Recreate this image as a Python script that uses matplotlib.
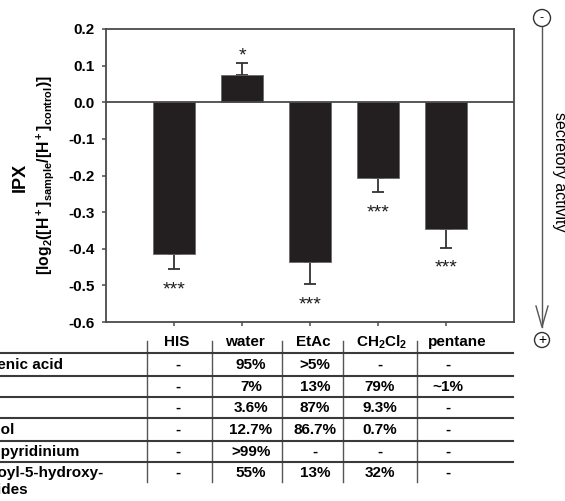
import matplotlib
matplotlib.use("Agg")
import matplotlib.pyplot as plt
from matplotlib.patches import Circle
from matplotlib.lines import Line2D

plt.rcParams['font.family'] = ['Liberation Sans', 'DejaVu Sans']
plt.rcParams['mathtext.fontset'] = 'custom'
plt.rcParams['mathtext.bf'] = 'Liberation Sans:bold'
plt.rcParams['mathtext.rm'] = 'Liberation Sans:bold'
plt.rcParams['mathtext.default'] = 'bf'

# --- data -------------------------------------------------------------
categories = ["HIS", "water", "EtAc", "CH2Cl2", "pentane"]
header_labels = ["HIS", "water", "EtAc", r"CH$_2$Cl$_2$", "pentane"]
ipx_values = [-0.415, 0.074, -0.437, -0.208, -0.347]
ipx_errors = [0.041, 0.033, 0.060, 0.038, 0.050]
significance = ["***", "*", "***", "***", "***"]
y_ticks = [-0.6, -0.5, -0.4, -0.3, -0.2, -0.1, 0.0, 0.1, 0.2]

compounds = ["chlorogenic acid", "caffeine", "catechol", "pyrogallol",
             "N-methylpyridinium", "N-alkanoyl-5-hydroxy-\ntryptamides"]
distribution = [
    ["-", "95%", ">5%", "-", "-"],
    ["-", "7%", "13%", "79%", "~1%"],
    ["-", "3.6%", "87%", "9.3%", "-"],
    ["-", "12.7%", "86.7%", "0.7%", "-"],
    ["-", ">99%", "-", "-", "-"],
    ["-", "55%", "13%", "32%", "-"],
]

# --- figure -----------------------------------------------------------
W, H = 565, 501
fig = plt.figure(figsize=(W / 100, H / 100), dpi=100)

ax = fig.add_axes([106 / W, (H - 322) / H, 408 / W, 293 / H])
pos = list(range(1, len(categories) + 1))
bar_color = "#231f20"
line_color = "#4a4a4a"

lower = [e if v < 0 else 0 for v, e in zip(ipx_values, ipx_errors)]
upper = [e if v >= 0 else 0 for v, e in zip(ipx_values, ipx_errors)]
ax.errorbar(pos, ipx_values, yerr=[lower, upper], fmt="none",
            ecolor="#333333", elinewidth=1.3, capsize=4.5, capthick=1.3,
            zorder=1)
ax.bar(pos, ipx_values, width=0.62, color=bar_color,
       edgecolor="#6a6a6a", linewidth=0.6, zorder=2)
ax.axhline(0, color=line_color, lw=1.3, zorder=3)

for p, v, e, s in zip(pos, ipx_values, ipx_errors, significance):
    if v < 0:
        ax.annotate(s, (p, v - e), xytext=(0, -25), textcoords="offset pixels",
                    ha="center", va="baseline", fontsize=14, color="#1e1e1e")
    else:
        ax.annotate(s, (p, v + e), xytext=(0, 3), textcoords="offset pixels",
                    ha="center", va="baseline", fontsize=14, color="#1e1e1e")

ax.set_xlim(0, 6)
ax.set_ylim(-0.6, 0.2)
ax.set_xticks(pos)
ax.set_xticklabels([])
ax.set_yticks(y_ticks)
ax.set_yticklabels([f"{t:.1f}" if abs(t) > 1e-9 else "0.0" for t in y_ticks],
                   fontweight="bold", fontsize=11)
ax.tick_params(axis="both", direction="out", length=3, width=1.1,
               color=line_color, pad=5)
for sp in ax.spines.values():
    sp.set_color(line_color)
    sp.set_linewidth(1.3)

fig.text(20 / W, 1 - 177 / H, "IPX", rotation=90, ha="center", va="center",
         fontsize=13, fontweight="bold")
fig.text(45 / W, 1 - 175 / H,
         r"[log$_2$([H$^+$]$_{sample}$/[H$^+$]$_{control}$)]",
         rotation=90, ha="center", va="center", fontsize=11.3,
         fontweight="bold")

# --- overlay in pixel coordinates: table and activity arrow -------------
ov = fig.add_axes([0, 0, 1, 1])
ov.set_xlim(0, W)
ov.set_ylim(H, 0)
ov.axis("off")

header_x = [177, 245, 313, 382, 457]
cell_x = [178, 251, 315, 380, 448]
header_y = 342
row_y = [365, 387, 408, 430, 452, 473]
label_x = [-59, -60, -63, -58, -65, -58]
hlines_y = [353, 376, 397, 418, 441, 462]
vlines_x = [147, 212, 282, 343, 417]

for x in vlines_x:
    ov.add_line(Line2D([x, x], [341, 482], color="#555555", lw=1.0))
for y in hlines_y:
    ov.add_line(Line2D([0, 513], [y, y], color="#3a3a3a", lw=1.5))

for x, lab in zip(header_x, header_labels):
    ov.text(x, header_y, lab, ha="center", va="center", fontsize=11,
            fontweight="bold")

for y, lx, name, row in zip(row_y, label_x, compounds, distribution):
    ov.text(lx, y - 7, name, ha="left", va="top", fontsize=11,
            fontweight="bold", linespacing=1.3)
    for x, val in zip(cell_x, row):
        ov.text(x, y, val, ha="center", va="center", fontsize=11,
                fontweight="bold")

# secretory activity arrow
ov.add_patch(Circle((542, 18), 8.5, fill=False, ec="#333333", lw=1.0))
ov.text(542, 18, "-", ha="center", va="center", fontsize=9)
ov.add_line(Line2D([542, 542], [27, 327], color="#555555", lw=1.0))
ov.add_line(Line2D([536, 542, 548], [306, 327, 306], color="#555555", lw=1.0))
ov.add_patch(Circle((542, 340), 7.5, fill=False, ec="#333333", lw=1.0))
ov.text(542, 340, "+", ha="center", va="center", fontsize=10)
ov.text(559, 172, "secretory activity", rotation=-90, ha="center",
        va="center", fontsize=11.5)

fig.savefig("out.png", dpi=100)
